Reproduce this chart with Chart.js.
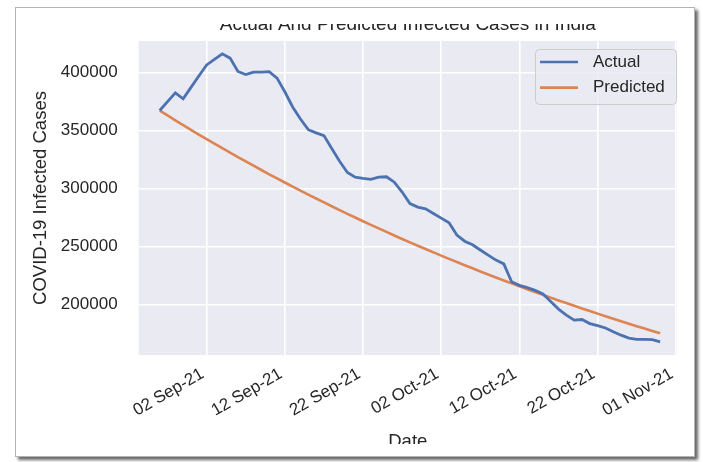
<!DOCTYPE html>
<html>
<head>
<meta charset="utf-8">
<title>Actual And Predicted Infected Cases in India</title>
<script src="https://cdn.jsdelivr.net/npm/chart.js@4.4.1/dist/chart.umd.min.js"></script>
<style>
  html, body { margin: 0; padding: 0; background: #ffffff; }
  body { width: 703px; height: 462px; position: relative; overflow: hidden; }
  #card {
    position: absolute; left: 15px; top: 7px; width: 680px; height: 450px;
    box-sizing: border-box; border: 1px solid #b4b4b4; background: #ffffff;
    box-shadow: 3px 3px 3px rgba(0, 0, 0, 0.6);
  }
  #clip { position: absolute; left: 16px; top: 24px; width: 678px; height: 420px; overflow: hidden; }
  #wrap { position: absolute; left: -16px; top: -24px; width: 703px; height: 462px; }
</style>
</head>
<body>
<div id="card"></div>
<div id="clip"><div id="wrap"><canvas id="chart" width="703" height="462"></canvas></div></div>
<script>
// Daily infected cases, one value per day starting 27 Aug 2021 (day 0)
const firstDay = '27 Aug 2021';
const actualCases = [
  367300, 375000, 382500, 377400, 387300, 397100, 406700, 411500, 416200, 412500,
  401000, 398400, 400400, 400400, 400800, 395300, 383500, 370400, 360000, 350800,
  348000, 345700, 334500, 323500, 313800, 309800, 308800, 308000, 309800, 310200,
  305500, 297000, 287000, 284000, 282500, 278500, 274500, 270500, 259900, 254600,
  251500, 247000, 242600, 238300, 235000, 219600, 216500, 214500, 212200, 209000,
  202500, 196000, 190800, 186500, 187000, 183500, 181800, 179700, 176500, 173500,
  171000, 169800, 169800, 169600, 167800
];
const predictedCases = [
  367300, 363100, 358900, 354800, 350700, 346600, 342700, 338700, 334800, 331000,
  327100, 323400, 319700, 316000, 312300, 308700, 305200, 301700, 298200, 294800,
  291400, 288000, 284700, 281400, 278200, 275000, 271800, 268700, 265600, 262600,
  259500, 256500, 253600, 250700, 247800, 244900, 242100, 239300, 236600, 233900,
  231200, 228500, 225900, 223300, 220700, 218200, 215600, 213200, 210700, 208300,
  205900, 203500, 201200, 198900, 196600, 194300, 192100, 189900, 187700, 185500,
  183400, 181300, 179200, 177100, 175100
];
// Date ticks, as day offsets from firstDay
const xTickDays = [6, 16, 26, 36, 46, 56, 66];
const xTickLabels = ['02 Sep-21', '12 Sep-21', '22 Sep-21', '02 Oct-21', '12 Oct-21', '22 Oct-21', '01 Nov-21'];
const yTickValues = [200000, 250000, 300000, 350000, 400000];

const FONT = "'Liberation Sans', Arial, Helvetica, sans-serif";
const TEXT = '#262626';
const BLUE = '#4c72b0';
const ORANGE = '#dd8452';

const toPoints = arr => arr.map((v, i) => ({ x: i, y: v }));

// seaborn-style grey plotting area
const plotBackground = {
  id: 'plotBackground',
  beforeDraw(chart) {
    const { ctx, chartArea: a } = chart;
    ctx.save();
    ctx.fillStyle = '#eaeaf2';
    ctx.fillRect(a.left, a.top, a.right - a.left, a.bottom - a.top);
    ctx.restore();
  }
};

// legend drawn inside the upper-right corner of the plot
const insetLegend = {
  id: 'insetLegend',
  afterDatasetsDraw(chart) {
    const { ctx, chartArea: a } = chart;
    const sets = chart.data.datasets;
    const w = 141, h = 55, rowH = 25.6, firstRow = 13;
    const x = a.right - 1 - w;
    const y = a.top + 8;
    ctx.save();
    ctx.beginPath();
    ctx.roundRect(x + 0.5, y + 0.5, w, h, 4);
    ctx.fillStyle = 'rgba(234, 234, 242, 0.8)';
    ctx.fill();
    ctx.strokeStyle = '#cccccc';
    ctx.lineWidth = 1;
    ctx.stroke();
    ctx.font = '17px ' + FONT;
    ctx.textBaseline = 'middle';
    ctx.textAlign = 'left';
    sets.forEach((ds, i) => {
      const cy = y + firstRow + i * rowH;
      ctx.beginPath();
      ctx.moveTo(x + 5, cy);
      ctx.lineTo(x + 43, cy);
      ctx.strokeStyle = ds.borderColor;
      ctx.lineWidth = 2.6;
      ctx.stroke();
      ctx.fillStyle = TEXT;
      ctx.fillText(ds.label, x + 58, cy);
    });
    ctx.restore();
  }
};

new Chart(document.getElementById('chart'), {
  type: 'line',
  data: {
    datasets: [
      { label: 'Actual', data: toPoints(actualCases), borderColor: BLUE, backgroundColor: BLUE,
        borderWidth: 2.8, pointRadius: 0, tension: 0, fill: false },
      { label: 'Predicted', data: toPoints(predictedCases), borderColor: ORANGE, backgroundColor: ORANGE,
        borderWidth: 2.6, pointRadius: 0, tension: 0, fill: false }
    ]
  },
  options: {
    responsive: false,
    devicePixelRatio: 1,
    animation: false,
    events: [],
    layout: { padding: { top: 0, left: 24, right: 26, bottom: 0 } },
    plugins: {
      legend: { display: false },
      tooltip: { enabled: false },
      title: {
        display: true,
        fullSize: false,
        text: 'Actual And Predicted Infected Cases in India',
        color: TEXT,
        font: { family: FONT, size: 19, weight: 'normal', lineHeight: 1.2 },
        padding: { top: 13.7, bottom: 4.5 }
      }
    },
    scales: {
      x: {
        type: 'linear',
        min: -2.7,
        max: 66.15,
        afterBuildTicks: s => { s.ticks = xTickDays.map(v => ({ value: v })); },
        afterFit: s => { s.height = 107; },
        ticks: {
          autoSkip: false,
          minRotation: 30,
          maxRotation: 30,
          padding: 9,
          labelOffset: -4,
          color: TEXT,
          font: { family: FONT, size: 17 },
          callback: v => xTickLabels[xTickDays.indexOf(v)]
        },
        grid: { color: '#ffffff', lineWidth: 1.6, drawTicks: false },
        border: { display: false },
        title: {
          display: true, text: 'Date', color: TEXT,
          font: { family: FONT, size: 18.5, lineHeight: 1.2 },
          padding: { top: 0, bottom: 9 }
        }
      },
      y: {
        type: 'linear',
        min: 156400,
        max: 427300,
        afterBuildTicks: s => { s.ticks = yTickValues.map(v => ({ value: v })); },
        afterFit: s => { s.width = 114.6; },
        ticks: {
          padding: 21,
          color: TEXT,
          font: { family: FONT, size: 17 },
          callback: v => String(v)
        },
        grid: { color: '#ffffff', lineWidth: 1.6, drawTicks: false },
        border: { display: false },
        title: {
          display: true, text: 'COVID-19 Infected Cases', color: TEXT,
          font: { family: FONT, size: 18.5, lineHeight: 1.2 },
          padding: { top: 5.4, bottom: 0 }
        }
      }
    }
  },
  plugins: [plotBackground, insetLegend]
});
</script>
</body>
</html>
